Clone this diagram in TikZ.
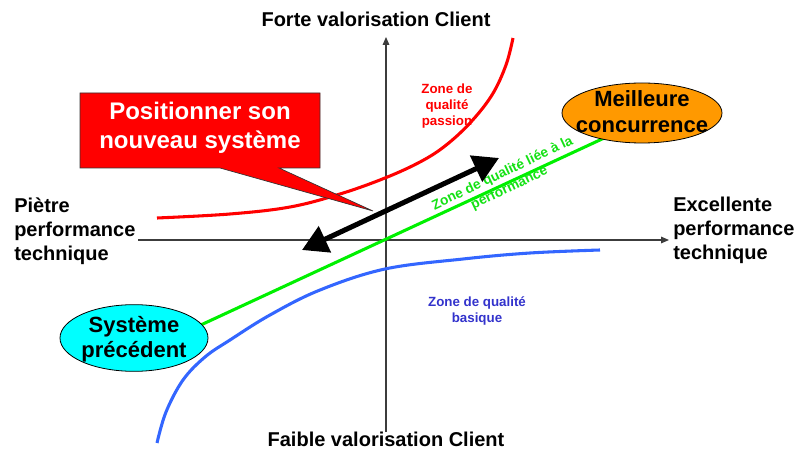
\documentclass[tikz,border=0pt]{standalone}
\usepackage{fontspec}
\setmainfont{Liberation Sans}
\usetikzlibrary{arrows.meta,shapes.geometric}
\definecolor{cred}{RGB}{255,0,0}
\definecolor{corange}{RGB}{255,153,0}
\definecolor{ccyan}{RGB}{0,255,255}
\definecolor{cgreen}{RGB}{0,240,0}
\definecolor{cgreentext}{RGB}{20,225,20}
\definecolor{cblue}{RGB}{51,102,255}
\definecolor{cbluetext}{RGB}{51,51,204}
\definecolor{caxis}{RGB}{60,60,60}
\begin{document}
\begin{tikzpicture}[x=0.75pt,y=-0.75pt,
  axislbl/.style={font=\fontsize{15}{18}\selectfont\bfseries, inner sep=0pt},
  axisline/.style={draw=caxis, line width=0.8pt, -{Triangle[length=6pt,width=5pt]}},
  curve/.style={line width=2.3pt},
  zonetxt/.style={font=\fontsize{10}{12}\selectfont\bfseries, align=center, inner sep=0pt},
  ellbox/.style={ellipse, draw=black, line width=0.6pt, inner sep=0pt},
  elltxt/.style={font=\fontsize{16.5}{19.5}\selectfont\bfseries, align=center, inner sep=0pt},
]
\useasboundingbox (0,0) rectangle (797,449);

% axes
\coordinate (vbot) at (386,432);
\coordinate (vtop) at (386,37);
\coordinate (hleft) at (138,240);
\coordinate (hright) at (669,240);
\draw[axisline] (vbot) -- (vtop);
\draw[axisline] (hleft) -- (hright);

% axis labels
\node[axislbl] (forte) at (376,19) {Forte valorisation Client};
\node[axislbl] (faible) at (386,439) {Faible valorisation Client};
\node[axislbl, anchor=west, align=left] (pietre) at (14,231) {Piètre\\performance\\technique};
\node[axislbl, anchor=west, align=left] (excel) at (673,230) {Excellente\\performance\\technique};

% red curve
\draw[curve, cred] plot[smooth, tension=0.6] coordinates {(157,218) (230,214) (290,207) (340,194) (385,178) (420,162) (445,146) (470,123) (492,95) (506,65) (513,38)};
% blue curve
\draw[curve, cblue] plot[smooth, tension=0.6] coordinates {(157,443) (166,412) (183,380) (205,357) (230,340) (270,315) (320,290) (385,269) (463,259) (530,253) (600,250)};

% green line
\coordinate (g1) at (190,330);
\coordinate (g2) at (615,133);
\draw[curve, cgreen] (g1) -- (g2);

% zone texts
\node[zonetxt, text=cred] (passion) at (447,106) {Zone de\\qualité\\passion};
\node[zonetxt, text=cbluetext] (basique) at (477,311) {Zone de qualité\\basique};
\node[zonetxt, text=cgreentext, rotate=25.5, font=\fontsize{10.3}{12}\selectfont\bfseries] (perf) at (506,181) {Zone de qualité liée à la\\performance};

% black double arrow
\coordinate (a1) at (302,250);
\coordinate (a2) at (499,158);
\draw[line width=3.8pt, {Triangle[length=19pt,width=21pt]}-{Triangle[length=19pt,width=21pt]}] (a1) -- (a2);

% callout
\coordinate (ctip) at (373,211);
\draw[draw=black!80, line width=0.5pt, fill=cred] (80,93) -- (320,93) -- (320,168) -- (279,168) -- (ctip) -- (220,168) -- (80,168) -- cycle;
\node[font=\fontsize{18}{21.75}\selectfont\bfseries, text=white, align=center, inner sep=0pt] (callout) at (200,128) {Positionner son\\nouveau système};

% ellipses
\node[ellbox, fill=corange, minimum width=120pt, minimum height=45pt] (meil) at (642,113) {};
\node[elltxt] (meiltxt) at (642,112) {Meilleure\\concurrence};
\node[ellbox, fill=ccyan, minimum width=111pt, minimum height=50pt] (prec) at (134,338) {};
\node[elltxt, font=\fontsize{16.5}{18.75}\selectfont\bfseries] (prectxt) at (134,339) {Système\\précédent};
\end{tikzpicture}
\end{document}
